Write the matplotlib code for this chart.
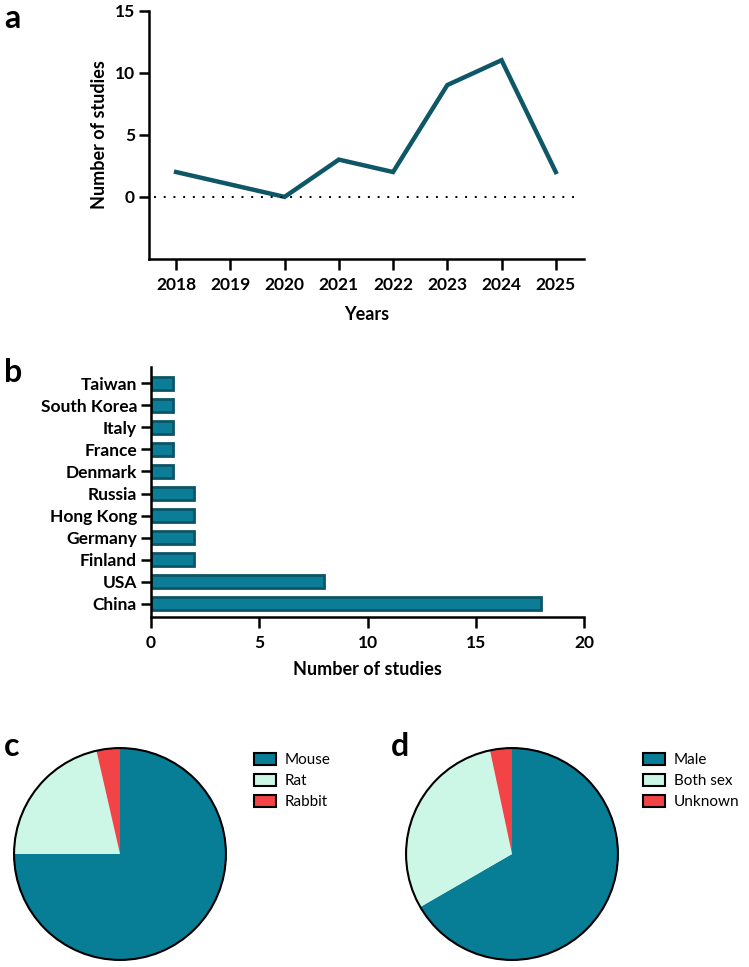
import matplotlib
matplotlib.use("Agg")
import matplotlib.pyplot as plt
from matplotlib.patches import Patch, Circle

plt.rcParams['font.family'] = ['Lato', 'DejaVu Sans']

# panel a: studies per year
years = [2018, 2019, 2020, 2021, 2022, 2023, 2024, 2025]
studies_per_year = [2, 1, 0, 3, 2, 9, 11, 2]

# panel b: studies per country (bottom to top)
countries = ['China', 'USA', 'Finland', 'Germany', 'Hong Kong', 'Russia',
             'Denmark', 'France', 'Italy', 'South Korea', 'Taiwan']
country_counts = [18, 8, 2, 2, 2, 2, 1, 1, 1, 1, 1]

# panel c: species
species = ['Mouse', 'Rat', 'Rabbit']
species_counts = [21, 6, 1]

# panel d: sex
sexes = ['Male', 'Both sex', 'Unknown']
sex_counts = [20, 9, 1]

LINE_C = '#0E5766'
BAR_C = '#0B7D96'
BAR_EDGE = '#0B5567'
PIE_COLORS = ['#077D96', '#CCF7E6', '#F24446']
FS = 12.5

W, H = 749, 967
fig = plt.figure(figsize=(W / 100, H / 100), dpi=100)


def px_axes(left, top, right, bottom):
    return fig.add_axes([left / W, 1 - bottom / H, (right - left) / W, (bottom - top) / H])


def style_axes(ax):
    for s in ['top', 'right']:
        ax.spines[s].set_visible(False)
    for s in ['left', 'bottom']:
        ax.spines[s].set_linewidth(1.8)
    ax.tick_params(width=1.8, length=7, labelsize=FS, pad=3)
    for lbl in ax.get_xticklabels() + ax.get_yticklabels():
        lbl.set_fontweight('bold')


# ---- a ----
ax = px_axes(149, 10.5, 584, 259)
ax.plot(years, studies_per_year, color=LINE_C, lw=3.2, solid_joinstyle='miter')
ax.axhline(0, xmin=0.012, xmax=0.985, color='black', lw=1.4, ls=(0, (1, 4)))
ax.set_xlim(2017.5, 2025.52)
ax.set_ylim(-5, 15)
ax.set_yticks([0, 5, 10, 15])
ax.set_xticks(years)
style_axes(ax)
ax.tick_params(axis='x', length=8, pad=5)
ax.set_xlabel('Years', fontsize=FS + 0.5, fontweight='bold', labelpad=9)
ax.set_ylabel('Number of studies', fontsize=FS + 0.5, fontweight='bold', labelpad=5)
fig.text(4 / W, 1 - 19 / H, 'a', fontsize=23, fontweight='bold', va='center')

# ---- b ----
ax = px_axes(151, 366.7, 584, 617)
ypos = list(range(len(countries)))
ax.barh(ypos, country_counts, height=0.6, color=BAR_C, edgecolor=BAR_EDGE, lw=2)
ax.set_xlim(0, 20)
ax.set_ylim(-0.6, 10.75)
ax.set_xticks([0, 5, 10, 15, 20])
ax.set_yticks(ypos)
ax.set_yticklabels(countries)
style_axes(ax)
ax.tick_params(axis='x', length=8, pad=5)
ax.set_xlabel('Number of studies', fontsize=FS + 0.5, fontweight='bold', labelpad=7)
fig.text(4 / W, 1 - 372 / H, 'b', fontsize=23, fontweight='bold', va='center')


# ---- c, d ----
def draw_pie(left, top, counts, labels, leg_x, tag, tag_x):
    ax = px_axes(left, top, left + 214, top + 214)
    ax.pie(counts, colors=PIE_COLORS, startangle=90, counterclock=False,
           wedgeprops=dict(linewidth=0), radius=1)
    ax.add_patch(Circle((0, 0), 1, fill=False, lw=1.5, ec='black'))
    ax.set_xlim(-1.01, 1.01)
    ax.set_ylim(-1.01, 1.01)
    ax.set_aspect('equal')
    handles = [Patch(facecolor=c, edgecolor='black', lw=1.5) for c in PIE_COLORS]
    fig.legend(handles, labels, loc='upper left',
               bbox_to_anchor=(leg_x / W, 1 - 747 / H), frameon=False,
               fontsize=11, handlelength=1.4, handleheight=0.8,
               handletextpad=0.6, labelspacing=0.44, borderaxespad=0)
    fig.text(tag_x / W, 1 - 747 / H, tag, fontsize=23, fontweight='bold', va='center')


draw_pie(13, 747, species_counts, species, 248, 'c', 4)
draw_pie(405, 747, sex_counts, sexes, 637, 'd', 391)

fig.savefig('out.png', dpi=100)
